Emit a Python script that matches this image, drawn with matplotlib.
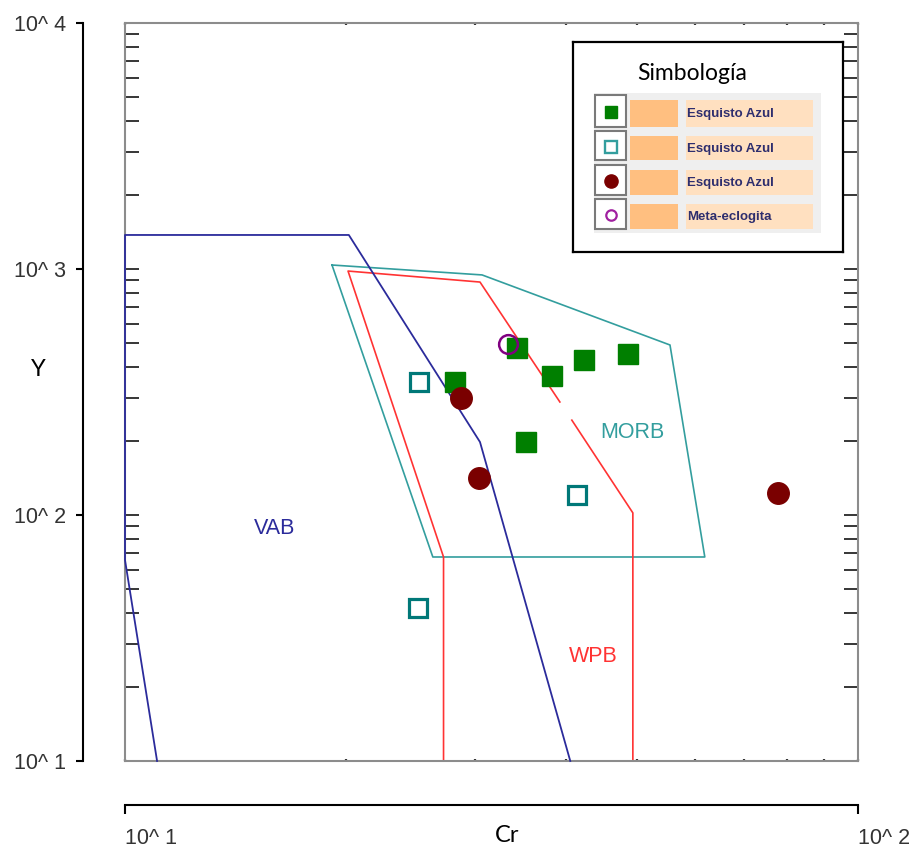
import numpy as np
import matplotlib.pyplot as plt
from matplotlib.patches import Rectangle
from matplotlib.ticker import FixedLocator, FixedFormatter, LogLocator, NullLocator, NullFormatter

# discrimination fields (Cr vs Y)
vab_cr = [11.06, 10, 10, 20.2, 30.5, 40.5]
vab_y = [10, 65.6, 1375, 1375, 198, 10]

morb_cr = [19.16, 30.7, 55.4, 61.8, 26.3, 19.16]
morb_y = [1038, 946, 491, 67.5, 67.5, 1038]

# the WPB line has a small break in the original
wpb_cr = [27.2, 27.2, 20.15, 30.5, 39.2, np.nan, 40.7, 49.3, 49.3]
wpb_y = [10, 67.5, 981, 885, 288, np.nan, 243, 102, 10]

# samples
green_cr = [28.2, 34.3, 38.2, 42.3, 48.6, 35.2]
green_y = [347, 477, 367, 427, 451, 198]
open_cr = [25.2, 41.4, 25.1]
open_y = [347, 121, 41.9]
red_cr = [28.7, 30.4, 77.8]
red_y = [299, 141, 123]
purple_cr = [33.3]
purple_y = [495]

field_names = ["VAB", "MORB", "WPB"]
field_cr = [16.0, 49.2, 43.6]
field_y = [88.5, 217, 26.7]

legend_labels = ["Esquisto Azul", "Esquisto Azul", "Esquisto Azul", "Meta-eclogita"]
x_ticks = [10, 100]
x_tick_labels = ["10^ 1", "10^ 2"]
y_ticks = [10, 100, 1000, 10000]
y_tick_labels = ["10^ 1", "10^ 2", "10^ 3", "10^ 4"]

W, H = 916, 851
fig = plt.figure(figsize=(W / 100, H / 100), dpi=100)

# main plot box in pixels
left, right, top, bottom = 125, 858, 23, 761
ax = fig.add_axes([left / W, 1 - bottom / H, (right - left) / W, (bottom - top) / H])
ax.set_xscale('log')
ax.set_yscale('log')
ax.set_xlim(10, 100)
ax.set_ylim(10, 10000)

navy = '#2b2b9b'
teal = '#339e9e'
red = '#ff3333'
ax.plot(vab_cr, vab_y, color=navy, lw=1.3, zorder=3, clip_on=False)
ax.plot(morb_cr, morb_y, color=teal, lw=1.2)
ax.plot(wpb_cr, wpb_y, color=red, lw=1.2)

ax.plot(green_cr, green_y, 's', ms=15, color='#007f00', mec='#007f00', zorder=4)
ax.plot(open_cr, open_y, 's', ms=13, mfc='none', mec='#007878', mew=2.3, zorder=4)
ax.plot(red_cr, red_y, 'o', ms=15.5, color='#7a0000', zorder=4)
ax.plot(purple_cr, purple_y, 'o', ms=13.5, mfc='none', mec='#800080', mew=1.8, zorder=4)

field_colors = [navy, teal, red]
for name, cx, cy, c in zip(field_names, field_cr, field_y, field_colors):
    ax.text(cx, cy, name, color=c, fontsize=15.5, family='Liberation Sans',
            ha='center', va='center')

for s in ax.spines.values():
    s.set_color('#8c8c8c')
    s.set_linewidth(1.5)
ax.xaxis.set_major_locator(LogLocator(base=10))
ax.xaxis.set_minor_locator(LogLocator(base=10, subs=np.arange(2, 10)))
ax.yaxis.set_major_locator(LogLocator(base=10))
ax.yaxis.set_minor_locator(LogLocator(base=10, subs=np.arange(2, 10), numticks=20))
ax.xaxis.set_major_formatter(NullFormatter())
ax.xaxis.set_minor_formatter(NullFormatter())
ax.yaxis.set_major_formatter(NullFormatter())
ax.yaxis.set_minor_formatter(NullFormatter())
ax.tick_params(axis='y', which='both', direction='in', left=True, right=True,
               length=10, width=1.1, color='black')
ax.tick_params(axis='x', which='both', direction='in', top=True, bottom=True,
               length=1.5, width=1.6, color='#333333')

# separate y axis on the left
ay = fig.add_axes([83 / W, 1 - bottom / H, 0.0005, (bottom - top) / H])
ay.set_yscale('log')
ay.set_ylim(10, 10000)
for k in ['top', 'right', 'bottom']:
    ay.spines[k].set_visible(False)
ay.spines['left'].set_linewidth(1.5)
ay.set_xticks([])
ay.yaxis.set_major_locator(FixedLocator(y_ticks))
ay.yaxis.set_major_formatter(FixedFormatter(y_tick_labels))
ay.yaxis.set_minor_locator(NullLocator())
ay.tick_params(axis='y', length=5, width=1.5, pad=7, labelsize=15.5,
               labelcolor='#333333')
for t in ay.get_yticklabels():
    t.set_family('Liberation Sans')

# separate x axis at the bottom
axx = fig.add_axes([left / W, 1 - 805 / H, (right - left) / W, 0.0005])
axx.set_xscale('log')
axx.set_xlim(10, 100)
for k in ['top', 'right', 'left']:
    axx.spines[k].set_visible(False)
axx.spines['bottom'].set_linewidth(1.5)
axx.set_yticks([])
axx.xaxis.set_major_locator(FixedLocator(x_ticks))
axx.xaxis.set_major_formatter(FixedFormatter(x_tick_labels))
axx.xaxis.set_minor_locator(NullLocator())
axx.tick_params(axis='x', length=6.5, width=1.5, pad=10, labelsize=15.5,
                labelcolor='#333333')
for t in axx.get_xticklabels():
    t.set_family('Liberation Sans')
    t.set_ha('left')

fig.text(507 / W, 1 - 836 / H, 'Cr', fontsize=17, family='Lato', ha='center', va='center')
fig.text(38 / W, 1 - 370 / H, 'Y', fontsize=17, family='Lato', ha='center', va='center')

# hand drawn legend box (pixel units inside the box)
lax = fig.add_axes([573 / W, 1 - 252 / H, 270 / W, 210 / H])
lax.set_xlim(0, 270)
lax.set_ylim(210, 0)
lax.set_xticks([])
lax.set_yticks([])
for s in lax.spines.values():
    s.set_linewidth(1.6)
    s.set_color('black')
lax.text(119, 31, 'Simbología', fontsize=16.5, family='Lato', ha='center', va='center')
lax.add_patch(Rectangle((21, 51), 227, 140, color='#efefef', lw=0))
rows = [(53, 85), (89, 118), (123, 153), (157, 187)]
markers = [
    dict(marker='s', ms=9, color='#007f00'),
    dict(marker='s', ms=8, mfc='none', mec='#339e9e', mew=1.7),
    dict(marker='o', ms=9.5, color='#7a0000'),
    dict(marker='o', ms=7.5, mfc='none', mec='#a020a0', mew=1.6),
]
for (y0, y1), lab, mk in zip(rows, legend_labels, markers):
    lax.add_patch(Rectangle((22, y0), 31, y1 - y0, facecolor='white',
                            edgecolor='#7a7a7a', lw=1.5))
    lax.add_patch(Rectangle((57, y0 + 5), 48, y1 - y0 - 5, color='#ffbf80', lw=0))
    lax.add_patch(Rectangle((113, y0 + 5), 127, y1 - y0 - 5, color='#ffe0c0', lw=0))
    lax.plot([37.5], [(y0 + y1) / 2 + 1], ls='none', **mk)
    lax.text(114, (y0 + y1) / 2 + 3, lab, fontsize=9.5, family='Liberation Sans',
             weight='bold', color='#2e2e6e', ha='left', va='center')

plt.savefig('out.png', dpi=100)
